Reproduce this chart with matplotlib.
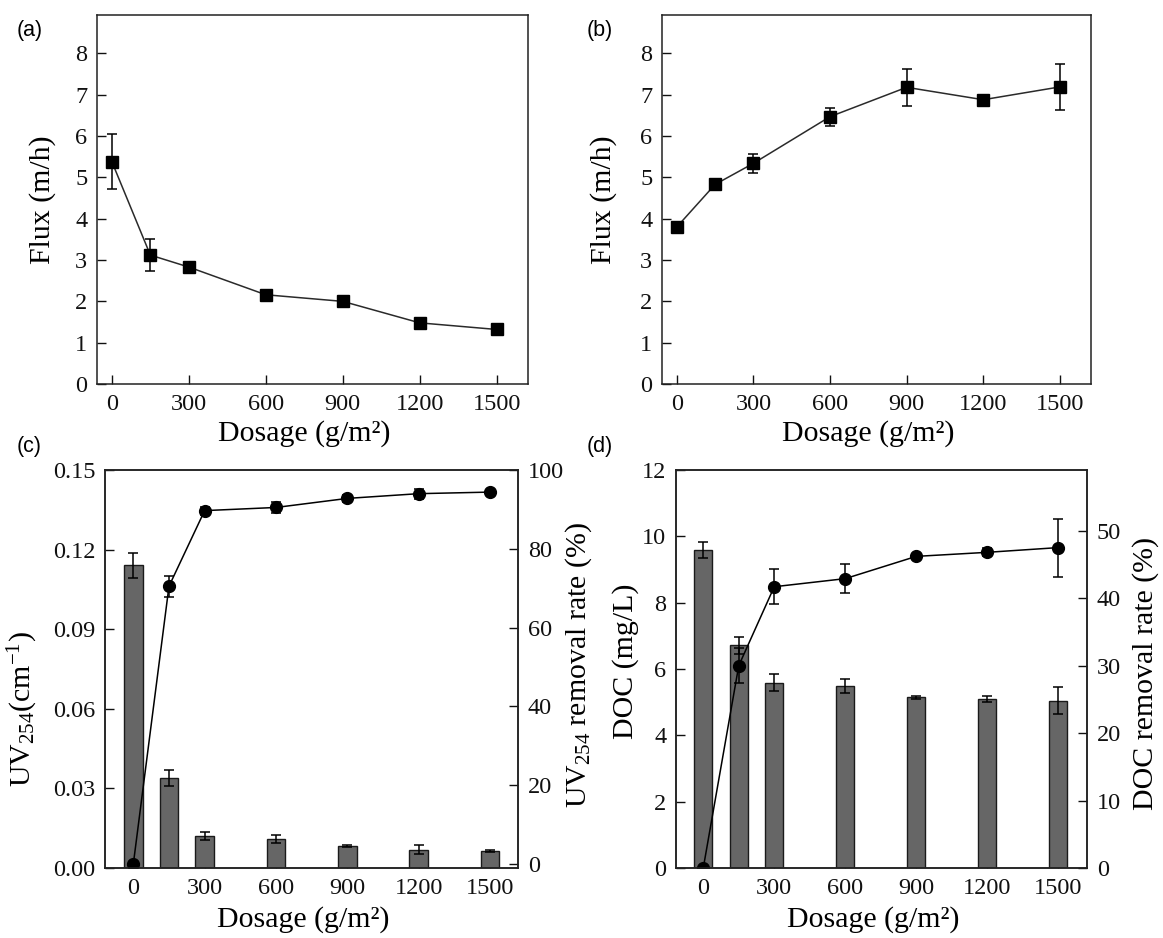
import matplotlib
matplotlib.use("Agg")
import matplotlib.pyplot as plt

plt.rcParams['font.family'] = ['Liberation Serif', 'DejaVu Serif']
plt.rcParams['mathtext.fontset'] = 'custom'
plt.rcParams['mathtext.rm'] = 'Liberation Serif'
plt.rcParams['mathtext.it'] = 'Liberation Serif:italic'

# --- data ---
dosage = [0, 150, 300, 600, 900, 1200, 1500]

flux_a = [5.38, 3.12, 2.83, 2.16, 2.00, 1.48, 1.32]
flux_a_err = [0.66, 0.38, 0.05, 0.10, 0.04, 0.05, 0.06]

flux_b = [3.80, 4.83, 5.34, 6.47, 7.18, 6.88, 7.19]
flux_b_err = [0.04, 0.05, 0.23, 0.22, 0.45, 0.06, 0.55]

uv254 = [0.1141, 0.0338, 0.0120, 0.0109, 0.0082, 0.0069, 0.0065]
uv254_err = [0.0048, 0.0030, 0.0014, 0.0016, 0.0004, 0.0016, 0.0004]
uv_removal = [0.0, 70.5, 89.7, 90.5, 92.8, 94.0, 94.4]
uv_removal_err = [0.0, 2.7, 1.0, 1.4, 0.8, 1.3, 0.5]

doc = [9.59, 6.71, 5.59, 5.49, 5.15, 5.10, 5.04]
doc_err = [0.23, 0.25, 0.26, 0.21, 0.04, 0.08, 0.41]
doc_removal = [0.0, 30.0, 41.7, 42.9, 46.2, 46.8, 47.5]
doc_removal_err = [0.0, 2.6, 2.6, 2.2, 0.3, 0.6, 4.3]

xticks = [0, 300, 600, 900, 1200, 1500]
TICK = 17.5
LABEL = 21.5
XLABEL = 'Dosage (g/m²)'


def style(ax):
    ax.tick_params(direction='in', length=6.5, width=1.0, labelsize=TICK, pad=7,
                   colors='#111111')
    for s in ax.spines.values():
        s.set_linewidth(1.1)
        s.set_color('#222222')


fig = plt.figure(figsize=(11.63, 9.38), dpi=100)

# --- (a) and (b): flux ---
pos_top = [[0.0834, 0.5906, 0.3706, 0.3934], [0.5692, 0.5906, 0.3689, 0.3934]]
for p, y, e, lx in [(pos_top[0], flux_a, flux_a_err, -0.095),
                    (pos_top[1], flux_b, flux_b_err, -0.105)]:
    ax = fig.add_axes(p)
    ax.errorbar(dosage, y, yerr=e, color='#2a2a2a', lw=1.1, marker='s', ms=8,
                mfc='black', mec='black', ecolor='black', elinewidth=1.1,
                capsize=3.5, capthick=1.1)
    ax.set_xlim(-58, 1622)
    ax.set_ylim(0, 8.93)
    ax.set_xticks(xticks)
    ax.set_yticks(range(0, 9))
    ax.set_ylabel('Flux (m/h)', fontsize=LABEL)
    ax.set_xlabel(XLABEL, fontsize=LABEL)
    ax.yaxis.set_label_coords(lx, 0.5)
    ax.xaxis.set_label_coords(0.48, -0.098)
    style(ax)


def bar_line(p, bars, bars_err, rate, rate_err, xlim, ylim, yticks, yfmt,
             rlim, rticks, ylabel, rlabel, lcoords, rcoords):
    ax = fig.add_axes(p)
    ax.bar(dosage, bars, width=78, color='#666666', edgecolor='#1a1a1a',
           linewidth=1.0, zorder=2)
    ax.errorbar(dosage, bars, yerr=bars_err, fmt='none', ecolor='black',
                elinewidth=1.1, capsize=3.5, capthick=1.1, zorder=3)
    ax.set_xlim(*xlim)
    ax.set_ylim(*ylim)
    ax.set_xticks(xticks)
    ax.set_yticks(yticks)
    ax.set_yticklabels([yfmt.format(v) for v in yticks])
    ax.set_ylabel(ylabel, fontsize=LABEL)
    ax.set_xlabel(XLABEL, fontsize=LABEL)
    ax.yaxis.set_label_coords(*lcoords)
    ax.xaxis.set_label_coords(0.48, -0.095)
    style(ax)

    ax2 = ax.twinx()
    ax2.errorbar(dosage, rate, yerr=rate_err, color='black', lw=1.1, marker='o',
                 ms=8.5, mfc='black', mec='black', ecolor='black',
                 elinewidth=1.1, capsize=3.5, capthick=1.1)
    ax2.set_ylim(*rlim)
    ax2.set_yticks(rticks)
    ax2.set_ylabel(rlabel, fontsize=LABEL)
    ax2.yaxis.set_label_coords(*rcoords)
    style(ax2)
    return ax, ax2


bar_line([0.0903, 0.0746, 0.3551, 0.4243], uv254, uv254_err, uv_removal,
         uv_removal_err, (-119, 1618), (0, 0.15),
         [0.0, 0.03, 0.06, 0.09, 0.12, 0.15], '{:.2f}',
         (-1, 100), [0, 20, 40, 60, 80, 100],
         'UV$_{254}$(cm$^{-1}$)', 'UV$_{254}$ removal rate (%)',
         (-0.157, 0.40), (1.109, 0.51))

bar_line([0.5813, 0.0746, 0.3534, 0.4243], doc, doc_err, doc_removal,
         doc_removal_err, (-115, 1622), (0, 12),
         [0, 2, 4, 6, 8, 10, 12], '{:d}',
         (0, 59), [0, 10, 20, 30, 40, 50],
         'DOC (mg/L)', 'DOC removal rate (%)',
         (-0.09, 0.52), (1.109, 0.49))

# panel letters
for txt, x, y in [('(a)', 0.014, 0.967), ('(b)', 0.504, 0.967),
                  ('(c)', 0.014, 0.5235), ('(d)', 0.504, 0.5235)]:
    fig.text(x, y, txt, fontsize=15.5, family=['Liberation Sans', 'DejaVu Sans'],
             va='center', ha='left')

fig.savefig('out.png', dpi=100, facecolor='white')
